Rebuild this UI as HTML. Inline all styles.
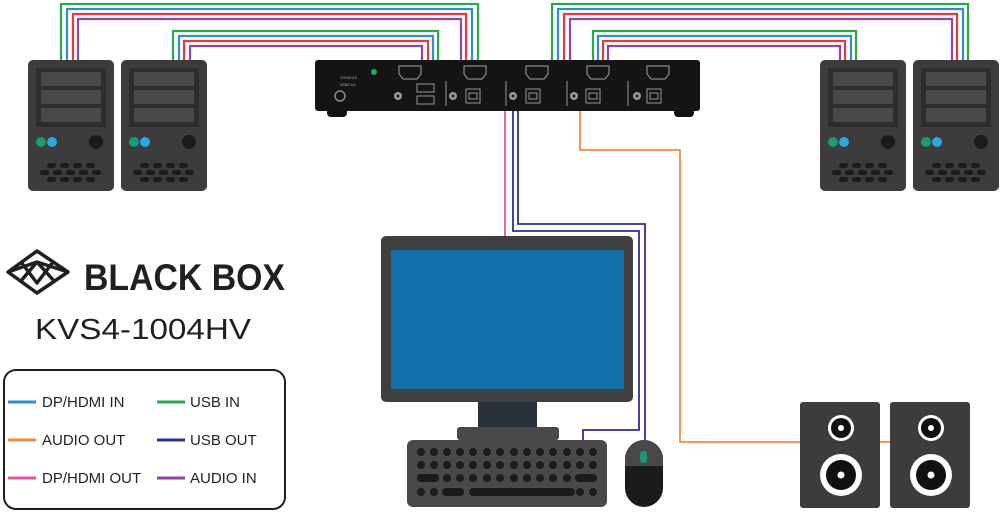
<!DOCTYPE html>
<html><head><meta charset="utf-8"><style>
html,body{margin:0;padding:0;background:#fff;}
svg{display:block;}
text{font-family:"Liberation Sans",Arial,sans-serif;}
</style></head><body>
<svg width="1000" height="513" viewBox="0 0 1000 513" xmlns="http://www.w3.org/2000/svg">
<defs>
<g id="srv">
<rect x="0" y="0" width="86" height="131" rx="5" fill="#3d3b3c"/>
<rect x="8" y="8" width="70" height="59" fill="#2e2c2d"/>
<rect x="13" y="12" width="60" height="14" fill="#4a4849"/>
<rect x="13" y="30" width="60" height="14" fill="#4a4849"/>
<rect x="13" y="48" width="60" height="14" fill="#4a4849"/>
<circle cx="13" cy="82" r="5" fill="#1a9a78"/>
<circle cx="24" cy="82" r="5" fill="#29a9e0"/>
<circle cx="68" cy="82" r="7" fill="#1c1b1c"/>
<g fill="#1c1b1c">
<rect x="19" y="103" width="9" height="5" rx="2.5"/><rect x="32" y="103" width="9" height="5" rx="2.5"/><rect x="45" y="103" width="9" height="5" rx="2.5"/><rect x="58" y="103" width="9" height="5" rx="2.5"/>
<rect x="12" y="110" width="9" height="5" rx="2.5"/><rect x="25" y="110" width="9" height="5" rx="2.5"/><rect x="38" y="110" width="9" height="5" rx="2.5"/><rect x="51" y="110" width="9" height="5" rx="2.5"/><rect x="64" y="110" width="9" height="5" rx="2.5"/>
<rect x="19" y="117" width="9" height="5" rx="2.5"/><rect x="32" y="117" width="9" height="5" rx="2.5"/><rect x="45" y="117" width="9" height="5" rx="2.5"/><rect x="58" y="117" width="9" height="5" rx="2.5"/>
</g>
</g>
<g id="hdmi"><path d="M-11,0 h22 v8 l-4,5 h-14 l-4,-5z" fill="none" stroke="#888" stroke-width="1.2"/></g>
<g id="aud"><circle r="4" fill="#999"/><circle r="1.5" fill="#222"/></g>
<g id="usbb"><rect x="-7" y="0" width="14" height="14" fill="none" stroke="#999" stroke-width="1"/><rect x="-4" y="4" width="8" height="6" fill="none" stroke="#999" stroke-width="1"/></g>
<g id="spk">
<rect x="0" y="0" width="80" height="106" rx="3" fill="#3d3b3c"/>
<circle cx="41" cy="26" r="13" fill="#fff"/><circle cx="41" cy="26" r="10" fill="#111"/><circle cx="41" cy="26" r="3" fill="#fff"/>
<circle cx="41" cy="73" r="21" fill="#fff"/><circle cx="41" cy="73" r="15" fill="#111"/><circle cx="41" cy="73" r="3.5" fill="#fff"/>
</g>
</defs>

<!-- cables left -->
<g fill="none" stroke-width="2.2">
<path d="M61,60 V4 H478 V62" stroke="#2aa84a"/>
<path d="M67,60 V9 H472 V62" stroke="#2b8fd0"/>
<path d="M73,60 V14 H466 V62" stroke="#e8383d"/>
<path d="M78,60 V19 H461 V62" stroke="#8e44a8"/>
<path d="M173,60 V31 H438 V62" stroke="#2aa84a"/>
<path d="M179,60 V36 H433 V62" stroke="#2b8fd0"/>
<path d="M184,60 V41 H428 V62" stroke="#e8383d"/>
<path d="M190,60 V46 H422 V62" stroke="#8e44a8"/>
<!-- right -->
<path d="M552,62 V4 H968 V60" stroke="#2aa84a"/>
<path d="M558,62 V9 H963 V60" stroke="#2b8fd0"/>
<path d="M564,62 V14 H957 V60" stroke="#e8383d"/>
<path d="M570,62 V19 H952 V60" stroke="#8e44a8"/>
<path d="M593,62 V31 H856 V60" stroke="#2aa84a"/>
<path d="M598,62 V36 H851 V60" stroke="#2b8fd0"/>
<path d="M603,62 V41 H845 V60" stroke="#e8383d"/>
<path d="M608,62 V46 H840 V60" stroke="#8e44a8"/>
<!-- down -->
<path d="M505,110 V237" stroke="#e0569a" stroke-width="1.8"/>
<path d="M513,110 V231 H639 V430 H583 V441" stroke="#2e2f8c" stroke-width="1.8"/>
<path d="M518,110 V224 H645 V441" stroke="#2e2f8c" stroke-width="1.8"/>
<path d="M580,110 V150 H680 V442 H890" stroke="#f08a40" stroke-width="1.8"/>
</g>

<use href="#srv" x="28" y="60"/>
<use href="#srv" x="121" y="60"/>
<use href="#srv" x="820" y="60"/>
<use href="#srv" x="913" y="60"/>

<!-- KVM -->
<rect x="327" y="108" width="20" height="9" rx="4" fill="#111"/>
<rect x="674" y="108" width="20" height="9" rx="4" fill="#111"/>
<rect x="315" y="60" width="385" height="51" rx="3" fill="#141414"/>
<circle cx="374" cy="72" r="3" fill="#2aa84a"/>
<text x="340" y="79" font-size="3.5" fill="#aaa">CONSOLE</text>
<text x="340" y="86" font-size="3.5" fill="#aaa">USB/CUA</text>
<circle cx="340" cy="96" r="5" fill="none" stroke="#888" stroke-width="1.5"/>
<use href="#hdmi" x="410" y="66"/>
<use href="#hdmi" x="475" y="66"/>
<use href="#hdmi" x="537" y="66"/>
<use href="#hdmi" x="598" y="66"/>
<use href="#hdmi" x="658" y="66"/>
<use href="#aud" x="398" y="96"/>
<use href="#aud" x="453" y="96"/>
<use href="#aud" x="513" y="96"/>
<use href="#aud" x="574" y="96"/>
<use href="#aud" x="637" y="96"/>
<rect x="417" y="84" width="17" height="8" fill="none" stroke="#999"/>
<rect x="417" y="96" width="17" height="8" fill="none" stroke="#999"/>
<use href="#usbb" x="473" y="89"/>
<use href="#usbb" x="533" y="89"/>
<use href="#usbb" x="593" y="89"/>
<use href="#usbb" x="654" y="89"/>
<g stroke="#999" stroke-width="1"><line x1="446" y1="81" x2="446" y2="106"/><line x1="506" y1="81" x2="506" y2="106"/><line x1="567" y1="81" x2="567" y2="106"/><line x1="628" y1="81" x2="628" y2="106"/></g>

<!-- monitor -->
<rect x="478" y="400" width="59" height="29" fill="#263238"/>
<rect x="457" y="427" width="102" height="13" rx="3" fill="#4a4849"/>
<rect x="381" y="236" width="252" height="166" rx="5" fill="#403e3f"/>
<rect x="391" y="250" width="233" height="139" fill="#1170a8"/>
<!-- keyboard -->
<rect x="407" y="440" width="200" height="67" rx="6" fill="#4a4849"/>
<g fill="#1c1b1c" id="keys">
<g id="kr"><circle cx="421" cy="452" r="4"/><circle cx="434" cy="452" r="4"/><circle cx="447" cy="452" r="4"/><circle cx="460" cy="452" r="4"/><circle cx="473" cy="452" r="4"/><circle cx="487" cy="452" r="4"/><circle cx="500" cy="452" r="4"/><circle cx="514" cy="452" r="4"/><circle cx="527" cy="452" r="4"/><circle cx="540" cy="452" r="4"/><circle cx="553" cy="452" r="4"/><circle cx="567" cy="452" r="4"/><circle cx="580" cy="452" r="4"/><circle cx="593" cy="452" r="4"/></g>
<use href="#kr" y="13"/>
<rect x="417" y="474" width="22" height="8" rx="4"/>
<circle cx="447" cy="478" r="4"/><circle cx="460" cy="478" r="4"/><circle cx="473" cy="478" r="4"/><circle cx="487" cy="478" r="4"/><circle cx="500" cy="478" r="4"/><circle cx="514" cy="478" r="4"/><circle cx="527" cy="478" r="4"/><circle cx="540" cy="478" r="4"/><circle cx="553" cy="478" r="4"/><circle cx="567" cy="478" r="4"/>
<rect x="575" y="474" width="22" height="8" rx="4"/>
<circle cx="421" cy="492" r="4"/><circle cx="434" cy="492" r="4"/>
<rect x="442" y="488" width="22" height="8" rx="4"/>
<rect x="469" y="488" width="106" height="8" rx="4"/>
<rect x="550" y="488" width="22" height="8" rx="4"/>
<circle cx="580" cy="492" r="4"/><circle cx="593" cy="492" r="4"/>
</g>
<!-- mouse -->
<rect x="625" y="440" width="38" height="67" rx="19" fill="#1c1b1c"/>
<path d="M625,466 V459 A19,19 0 0 1 663,459 V466 Z" fill="#4a4849"/>
<rect x="640" y="451" width="7" height="12" rx="3.5" fill="#1a9a78"/>

<!-- speakers -->
<use href="#spk" x="800" y="402"/>
<use href="#spk" x="890" y="402"/>

<!-- logo -->
<g fill="none" stroke="#231f20" stroke-width="3.5" stroke-linejoin="round">
<path d="M8,272 L37,251 L68,272 L37,293 Z"/>
<path d="M8,272 L37,262 L68,272"/>
<path d="M37,262 L20,282 M37,262 L55,282"/>
<path d="M21,262 L37,283 L53,262"/>
</g>
<text x="84" y="290" font-size="37" font-weight="bold" fill="#231f20" textLength="201" lengthAdjust="spacingAndGlyphs">BLACK BOX</text>
<text x="35" y="339" font-size="29" fill="#231f20" textLength="216" lengthAdjust="spacingAndGlyphs">KVS4-1004HV</text>

<!-- legend -->
<rect x="4" y="370" width="281" height="139" rx="12" fill="#fff" stroke="#231f20" stroke-width="2"/>
<g stroke-width="3">
<line x1="8" y1="402" x2="36" y2="402" stroke="#2b8fd0"/>
<line x1="8" y1="440" x2="36" y2="440" stroke="#f08a40"/>
<line x1="8" y1="478" x2="36" y2="478" stroke="#e0569a"/>
<line x1="157" y1="402" x2="185" y2="402" stroke="#2aa84a"/>
<line x1="157" y1="440" x2="185" y2="440" stroke="#2e2f8c"/>
<line x1="157" y1="478" x2="185" y2="478" stroke="#8e44a8"/>
</g>
<g font-size="15" fill="#231f20">
<text x="42" y="407">DP/HDMI IN</text>
<text x="42" y="445">AUDIO OUT</text>
<text x="42" y="483">DP/HDMI OUT</text>
<text x="190" y="407">USB IN</text>
<text x="190" y="445">USB OUT</text>
<text x="190" y="483">AUDIO IN</text>
</g>
</svg>
</body></html>
